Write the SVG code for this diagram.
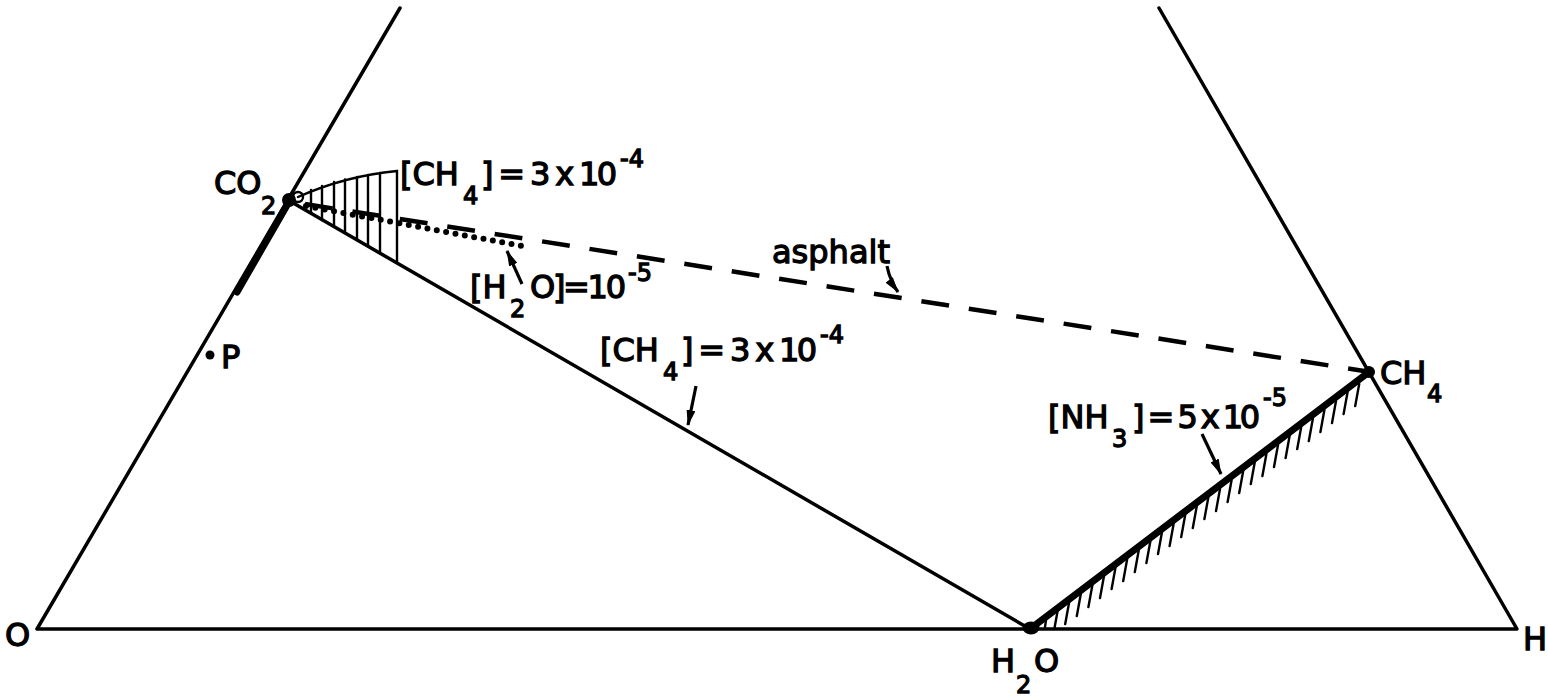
<svg xmlns="http://www.w3.org/2000/svg" width="1548" height="697" viewBox="0 0 1548 697">
<style>
.ln{fill:none;stroke:#000;stroke-width:3.5;stroke-linejoin:round;stroke-linecap:round}
.thick{fill:none;stroke:#000;stroke-width:7;stroke-linecap:round}
.hatch{fill:none;stroke:#000;stroke-width:2.4;stroke-linecap:round}
.dash{fill:none;stroke:#000;stroke-width:4.5;stroke-dasharray:28 20}
.dot{fill:none;stroke:#000;stroke-width:6;stroke-dasharray:0 9.5;stroke-linecap:round}
.arr{fill:none;stroke:#000;stroke-width:3.2;marker-end:url(#ah)}
.t{font-family:"DejaVu Sans","Liberation Sans",sans-serif;font-size:32px;fill:#000;stroke:#000;stroke-width:1.3}
.s{font-size:24px}
</style>
<defs>
<marker id="ah" viewBox="0 0 16 9" refX="15" refY="4.5" markerWidth="16" markerHeight="9" markerUnits="userSpaceOnUse" orient="auto">
<path d="M0,0 L16,4.5 L0,9 z" fill="#000"/>
</marker>
</defs>
<rect width="1548" height="697" fill="#fff"/>

<g id="connectors">
<path id="frame" class="ln" d="M400,8 L37,629 L1517,629 L1159,8"/>
<path id="co2-h2o" class="ln" d="M288,200 L1030,629"/>
<path id="co2-thick" class="thick" d="M290,200 L237,292"/>
<path id="h2o-ch4" class="thick" d="M1030,629 L1369,372"/>
<path id="hatch-nh3" class="hatch" d="M1046,620 L1045,627 M1057.6,611 L1054.7,627 M1069.2,602 L1065.2,624 M1080.8,594 L1076.8,616 M1092.4,585 L1088.4,607 M1104,576 L1100,598 M1115.6,567 L1111.6,589 M1127.2,559 L1123.2,581 M1138.8,550 L1134.8,572 M1150.4,541 L1146.4,563 M1162,532 L1158,554 M1173.6,524 L1169.6,546 M1185.2,515 L1181.2,537 M1196.8,506 L1192.8,528 M1208.4,497 L1204.4,519 M1220,489 L1216,511 M1231.6,480 L1227.6,502 M1243.2,471 L1239.2,493 M1254.8,462 L1250.8,484 M1266.4,454 L1262.4,476 M1278,445 L1274,467 M1289.6,436 L1285.6,458 M1301.2,427 L1297.2,449 M1312.8,419 L1308.8,441 M1324.4,410 L1320.4,432 M1336,401 L1332,423 M1347.6,392 L1343.6,414 M1359.2,384 L1355.2,406"/>
<path id="hatch-co2" class="hatch" d="M298,197 Q345,176 397,171 L397,263 M311,190 L311,213 M322,186 L322,220 M334,182 L334,226 M345,179.5 L345,233 M357,177 L357,240 M368,175 L368,246 M380,173 L380,253"/>
<path id="asphalt-line" class="dash" d="M305,204 L1364,371"/>
<path id="h2o-dots" class="dot" d="M306,206 L522,246"/>
<path id="arrow-h2o" class="arr" d="M522,284 L507,251"/>
<path id="arrow-ch4" class="arr" d="M696,386 L688,425"/>
<path id="arrow-asphalt" class="arr" d="M887,266 Q890,281 898,292"/>
<path id="arrow-nh3" class="arr" d="M1202,434 L1221,474"/>
</g>

<g id="node-CO2">
<circle cx="289" cy="200" r="7"/>
<circle cx="298" cy="197" r="5" fill="none" stroke="#000" stroke-width="2.4"/>
<text class="t"><tspan x="214" y="194">CO</tspan><tspan class="s" x="261" y="214">2</tspan></text>
</g>
<g id="node-H2O">
<ellipse cx="1031" cy="628" rx="8.5" ry="6.5"/>
<text class="t"><tspan x="991" y="672">H</tspan><tspan class="s" x="1016" y="693">2</tspan><tspan x="1034" y="672">O</tspan></text>
</g>
<g id="node-CH4">
<circle cx="1369" cy="372" r="6"/>
<text class="t"><tspan x="1380" y="384">CH</tspan><tspan class="s" x="1427" y="402">4</tspan></text>
</g>
<g id="node-O"><text class="t" x="5" y="646">O</text></g>
<g id="node-H"><text class="t" x="1523" y="650">H</text></g>
<g id="node-P">
<circle cx="210" cy="355" r="4.5"/>
<text class="t" font-size="30" x="221" y="368">P</text>
</g>

<g id="label-ch4-top">
<text class="t"><tspan x="400" y="185">[CH</tspan><tspan class="s" x="463" y="204">4</tspan><tspan x="481" y="185" textLength="136" lengthAdjust="spacing">] = 3 x 10</tspan><tspan class="s" x="620" y="167">-4</tspan></text>
</g>
<g id="label-h2o">
<text class="t"><tspan x="470" y="298">[H</tspan><tspan class="s" x="510" y="317">2</tspan><tspan x="530" y="298" textLength="96" lengthAdjust="spacing">O]=10</tspan><tspan class="s" x="628" y="281">-5</tspan></text>
</g>
<g id="label-asphalt"><text class="t" font-size="31" x="772" y="263">asphalt</text></g>
<g id="label-ch4-mid">
<text class="t"><tspan x="600" y="361">[CH</tspan><tspan class="s" x="663" y="380">4</tspan><tspan x="681" y="361" textLength="136" lengthAdjust="spacing">] = 3 x 10</tspan><tspan class="s" x="820" y="343">-4</tspan></text>
</g>
<g id="label-nh3">
<text class="t"><tspan x="1048" y="428">[NH</tspan><tspan class="s" x="1112" y="447">3</tspan><tspan x="1132" y="428" textLength="128" lengthAdjust="spacing">] = 5 x 10</tspan><tspan class="s" x="1263" y="406">-5</tspan></text>
</g>
</svg>
